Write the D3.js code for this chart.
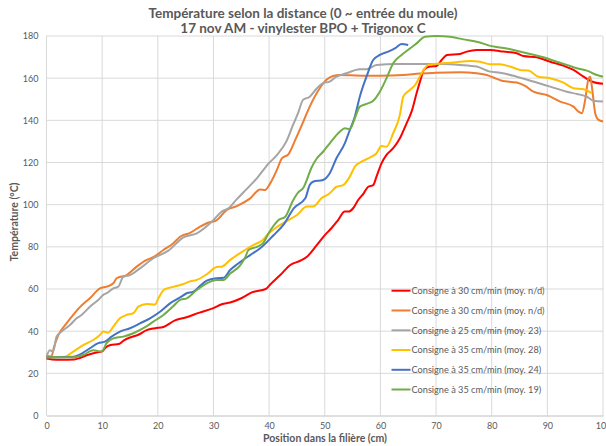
<!DOCTYPE html>
<html><head><meta charset="utf-8">
<script src="https://cdn.jsdelivr.net/npm/d3@7"></script>
<style>
html,body{margin:0;padding:0;background:#fff;}
text{font-family:Lato,"Open Sans",sans-serif;fill:#595959;}
</style></head>
<body><svg id="c" width="606" height="446"></svg>
<script>
const titleLines = ["Température selon la distance (0 ~ entrée du moule)", "17 nov AM - vinylester BPO + Trigonox C"];
const xTitle = "Position dans la filière (cm)";
const yTitle = "Température (°C)";
const xTicks = [0,10,20,30,40,50,60,70,80,90,100];
const yTicks = [0,20,40,60,80,100,120,140,160,180];
const seriesNames = [
  "Consigne à 30 cm/min (moy. n/d)",
  "Consigne à 30 cm/min (moy. n/d)",
  "Consigne à 25 cm/min (moy. 23)",
  "Consigne à 35 cm/min (moy. 28)",
  "Consigne à 35 cm/min (moy. 24)",
  "Consigne à 35 cm/min (moy. 19)"
];
const seriesColors = ["#FF0000","#ED7D31","#A5A5A5","#FFC000","#4472C4","#70AD47"];

const red = [[0,27],[1,26.6],[2.5,26.4],[5,26.6],[6,27.3],[7.5,28.8],[9,29.9],[10,30.4],[10.5,31.9],[11.5,33.4],[13,33.9],[14,35.8],[15,37],[16.5,38.3],[18,40.5],[19.5,41.4],[21,42],[23,45],[25,46.5],[27.5,48.8],[30,50.9],[31.5,52.8],[33,53.6],[35,55.6],[37,58.5],[39.4,60],[40.3,62.4],[42,66.6],[43.8,71.4],[45.6,73.4],[46.8,75.3],[48.6,80.9],[50.3,86.4],[51.2,88.8],[52.4,92.7],[53.6,96.7],[54.3,96.7],[55.1,98.3],[56,102.2],[57,105.4],[57.8,108.5],[58.7,109.3],[59.3,113.3],[60.2,119.6],[61.1,123.6],[62.3,126.8],[63.5,131.5],[64.7,138.6],[65.6,144.1],[66.5,152.8],[67.3,160],[67.8,164],[68.9,165.5],[70.1,165.8],[71,168.6],[72,171],[74.3,171.5],[75.5,172.6],[77.3,173.4],[79.7,173.4],[82.1,172.6],[84.5,171.8],[85.7,170.5],[88.1,169.9],[90.5,167.8],[93,165.8],[94.7,163.9],[96.5,160.7],[98,158.4],[100,157.3]];

const orange = [[0,28.2],[0.9,28],[1.3,32],[2.1,38],[3.6,43.7],[4.8,47.7],[6,51.4],[7.8,55.6],[9.6,60.3],[10.8,61.1],[12,62.7],[12.6,65.1],[14.4,66.6],[16.2,70.6],[18,73.8],[19.2,75.1],[21,78.5],[22.8,81.7],[24,84.8],[25.8,86.6],[27.6,89.6],[28.8,91.2],[30.6,92.7],[32.4,97.5],[34.2,99.3],[36.6,103],[38.4,107.2],[39.3,107],[40.2,110.1],[41.4,116.5],[42.3,122],[43.5,124],[44.7,130.7],[45.9,137.8],[47.3,146.5],[49.1,155.2],[50.3,159.2],[51.5,161],[52.7,161.5],[56.9,161.2],[59.9,161.2],[64.1,161.5],[67.1,162.2],[70.1,162.6],[74.3,162.8],[77.3,162.3],[79.1,161.5],[80.3,160.3],[81.8,158.8],[84.5,157.9],[86,156.3],[87.5,153.6],[89.9,152],[92.3,148.9],[94.7,146.5],[95.6,144.1],[96.2,143.4],[96.8,149.7],[97.4,159.9],[97.7,160.7],[98,156],[98.6,143.4],[99.2,140.2],[100,139.4]];

const gray = [[0,27.9],[0.6,31],[1.2,30.3],[1.8,37.4],[2.7,39.8],[4.2,42.9],[5.4,46.1],[6.3,47.7],[7.8,51.6],[9.3,54.8],[10.2,57.2],[10.8,58],[12,60.3],[12.9,61.1],[13.8,65.8],[15,66.6],[16.8,69.8],[19.2,74.6],[21.9,78.2],[24.6,84.5],[27,86.4],[29.7,91.9],[31.5,96.7],[32.7,98.3],[34.2,102.6],[36,107.5],[37.8,112.5],[39.9,119.5],[41.4,123.5],[43.2,130.5],[44.3,137.8],[45.2,143.4],[46.1,149.7],[47.3,151.2],[48.6,155.2],[49.7,157.6],[50.9,158.4],[52.1,160.7],[53.9,162.3],[56.3,164.2],[57.5,164.2],[59.3,166.3],[62.9,166.7],[67.1,166.7],[71.3,166.7],[74.3,166.3],[77.3,165.5],[79.7,163.1],[81.5,162.6],[84.5,160.7],[87.5,158.4],[90.5,156],[93.5,153.6],[95.3,152.5],[97.1,151.2],[98.3,149.3],[100,148.9]];

const yellow = [[0,27.6],[3.3,27.9],[4.8,30.3],[6.6,33.4],[8.4,35.8],[9.6,38.2],[10.2,39.8],[11.1,39.3],[12,42.1],[13.2,46.1],[14.4,47.7],[15.6,48.5],[16.5,51.6],[18,52.9],[19.5,52.6],[20.1,55.6],[21.2,59.8],[22.8,61],[24.6,62.4],[25.8,63.6],[27,64.3],[28.8,67],[30.6,70.4],[31.5,70.6],[33,73.8],[34.8,77],[36.6,80],[37.2,80.9],[38.7,82.9],[39.8,86],[41.4,89.4],[42.6,91.4],[45,95.1],[46.8,99.1],[47.9,99.1],[49.4,103],[50.9,105.4],[52.1,108.5],[53.3,109.3],[54.5,113.3],[55.4,118],[56.6,120.4],[58.1,122.3],[59.3,124.4],[60.2,127.8],[61.1,127.5],[62.3,133.9],[63.5,142.6],[64.1,151.2],[65.3,154.4],[66.3,157],[67.4,162.3],[68.6,166.3],[70.7,167],[73.1,167.4],[76.1,168.2],[77.9,167.8],[79.7,166.6],[81.5,166.6],[83.3,165.5],[85.1,163.9],[86.6,163.6],[88.4,160.7],[90.5,160],[92.9,157.9],[94.7,155.2],[96.5,154.7],[98,152.8]];

const blue = [[0,27.6],[4.8,27.9],[6.6,29.8],[7.8,31.9],[9.3,34.3],[10.5,35],[11.7,37.4],[13.2,39.8],[15,41.4],[16.8,43.7],[18.6,46.1],[20.4,49.2],[22.2,53.2],[24,56],[25.2,58],[26.4,58.7],[27.6,61.5],[28.8,64],[30.6,65.1],[31.8,65.3],[33,69],[34.4,72],[36.6,76.1],[38.4,79.3],[40.8,85.5],[42.6,90.5],[44.5,98.5],[46.5,103],[47.3,109.3],[47.9,110.9],[49.7,111.7],[50.9,114.9],[52.1,122],[53.6,129.1],[54.5,135.4],[55.4,141.7],[56.3,151.2],[57.5,160.7],[58.7,168.6],[59.9,171],[61.4,172.6],[62.6,174.1],[63.8,176.2],[65,175.7]];

const green = [[0,27.6],[4.8,27.6],[6.6,28.7],[8.4,31],[9.9,30.3],[10.8,34.3],[12,36.6],[13.8,37.4],[15.6,39],[17.4,41.4],[19.2,44.5],[21,47.7],[22.8,51.9],[24,54.8],[25.2,55.6],[27,59.5],[28.8,62.7],[30.6,64.3],[31.8,64.3],[33,67.3],[34.8,71.2],[35.7,75],[36.3,78.5],[37.8,80],[39,82],[39.9,86.4],[41.1,91],[41.7,92.7],[42.9,94.3],[44.3,102],[45.2,105.7],[46.1,107.8],[47.7,118],[48.6,122],[49.7,125.1],[50.9,129.1],[52.7,134.6],[53.6,136.2],[54.5,135.8],[55.4,141],[56.3,146.5],[57.5,147.8],[58.7,149.3],[59.9,153.6],[61.1,160],[62.3,167.1],[63.8,171],[65.3,174.1],[66.5,176.5],[68,179.6],[70.1,180],[72.5,179.6],[74.9,178.4],[77.3,177.3],[80,175.2],[82.7,174.1],[84.5,173],[86.9,171.5],[89.3,169.9],[91.7,167.8],[93.5,166.3],[95.3,164.7],[97.1,163.6],[98.9,161.5],[100,160.7]];

const allSeries = [red, orange, gray, yellow, blue, green];

const svg = d3.select("#c");
const L = 46.5, R = 603, T = 36, B = 415.5;
const x = d3.scaleLinear().domain([0,100]).range([L,R]);
const y = d3.scaleLinear().domain([0,180]).range([B,T]);

// gridlines
const grid = svg.append("g");
grid.selectAll("line.v").data(xTicks).join("line")
  .attr("x1", d=>x(d)).attr("x2", d=>x(d)).attr("y1", T).attr("y2", B)
  .attr("stroke", "#d9d9d9").attr("stroke-width", 1);
grid.selectAll("line.h").data(yTicks.slice(1)).join("line")
  .attr("x1", L).attr("x2", R).attr("y1", d=>y(d)).attr("y2", d=>y(d))
  .attr("stroke", "#d9d9d9").attr("stroke-width", 1);

// axes
const xAxis = svg.append("g").attr("transform", `translate(0,${B})`)
  .call(d3.axisBottom(x).tickValues(xTicks).tickSize(0).tickPadding(7));
xAxis.select(".domain").attr("stroke", "#bfbfbf");
const yAxis = svg.append("g").attr("transform", `translate(${L},0)`)
  .call(d3.axisLeft(y).tickValues(yTicks).tickSize(0).tickPadding(8));
yAxis.select(".domain").remove();
svg.selectAll("g").attr("font-family", null).attr("font-size", null);
svg.selectAll(".tick text").attr("font-size", 9).style("fill", "#595959");

// lines
const line = d3.line().x(d=>x(d[0])).y(d=>y(d[1])).curve(d3.curveMonotoneX);
svg.append("g").selectAll("path").data(allSeries).join("path")
  .attr("d", line).attr("fill", "none")
  .attr("stroke", (d,i)=>seriesColors[i]).attr("stroke-width", 2)
  .attr("stroke-linejoin", "round");

// legend
const lg = svg.append("g");
const rowY = [290.7, 310.5, 330.3, 350, 369.8, 389.5];
seriesNames.forEach((n,i)=>{
  lg.append("line").attr("x1", 391.5).attr("x2", 410.5).attr("y1", rowY[i]).attr("y2", rowY[i])
    .attr("stroke", seriesColors[i]).attr("stroke-width", 2);
  lg.append("text").attr("x", 411.5).attr("y", rowY[i]).attr("dy", "0.35em")
    .attr("font-size", 9.2).text(n);
});

// titles
svg.append("text").attr("x", 303).attr("y", 13).attr("dy","0.35em").attr("text-anchor","middle")
  .attr("font-size", 13.5).attr("font-weight","bold").text(titleLines[0]);
svg.append("text").attr("x", 303).attr("y", 28.5).attr("dy","0.35em").attr("text-anchor","middle")
  .attr("font-size", 13.5).attr("font-weight","bold").text(titleLines[1]);
svg.append("text").attr("x", 325).attr("y", 438).attr("dy","0.35em").attr("text-anchor","middle")
  .attr("font-size", 10.5).attr("font-weight","bold").text(xTitle);
svg.append("text").attr("transform","translate(14,222) rotate(-90)").attr("dy","0.35em").attr("text-anchor","middle")
  .attr("font-size", 10.5).attr("font-weight","bold").text(yTitle);
</script></body></html>
